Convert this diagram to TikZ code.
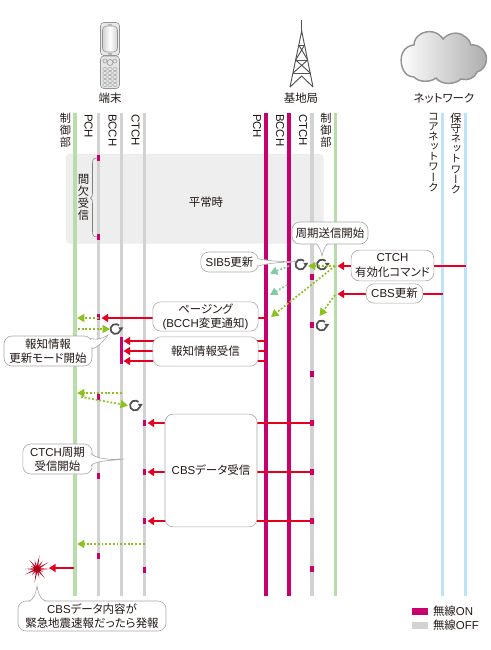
\documentclass[tikz,border=0pt]{standalone}
\usepackage{fontspec}
\setmainfont[RawFeature=+palt]{Noto Sans CJK JP}
\newfontfamily\lat{Liberation Sans}
\newfontfamily\jpv[RawFeature=+vert]{Noto Sans CJK JP}
\usetikzlibrary{arrows.meta,calc}
\definecolor{pinkon}{HTML}{C8006E}
\definecolor{offgray}{HTML}{D2D2D2}
\definecolor{ctlgreen}{HTML}{B7DDA8}
\definecolor{netblue}{HTML}{BDE3FA}
\definecolor{sigred}{HTML}{E60020}
\definecolor{dotgreen}{HTML}{8CC220}
\definecolor{dotteal}{HTML}{80CAA4}
\definecolor{bandgray}{HTML}{EEEEEE}
\definecolor{boxline}{HTML}{A8A8A8}
\definecolor{txt}{HTML}{231815}
\definecolor{cyc}{HTML}{505050}
\tikzset{
  x=0.75pt,y=-0.75pt,
  every node/.style={text=txt,inner sep=0pt,outer sep=0pt},
  jptext/.style={font=\fontsize{8.6}{10.6}\selectfont,align=center},
  latv/.style={rotate=-90,anchor=west,font=\lat\fontsize{8.6}{10}\selectfont},
  vstack/.style={anchor=north,align=center,font=\jpv\fontsize{8.4}{9}\selectfont},
  kstack/.style={anchor=north,align=center,font=\jpv\fontsize{8}{7.6}\selectfont},
  life/.style={line width=2.5pt},
  tick/.style={fill=pinkon,draw=none,minimum width=2.9pt,minimum height=3.8pt},
  redarrow/.style={draw=sigred,line width=1.45pt,-{Triangle[length=5pt,width=6pt]}},
  gdot/.style={draw=dotgreen,line width=1.3pt,dash pattern=on 1.4pt off 1.4pt,-{Triangle[length=5.6pt,width=6pt,fill=dotgreen]}},
  tdot/.style={draw=dotteal,line width=1.3pt,dash pattern=on 1.4pt off 1.4pt,-{Triangle[length=5.6pt,width=6pt,fill=dotteal]}},
  callout/.style={draw=boxline,line width=0.45pt,fill=white,rounded corners=6pt,jptext,anchor=center},
  tailfill/.style={fill=white,draw=none},
  tailline/.style={draw=boxline,line width=0.45pt},
  cycle arrow/.pic={
    \draw[cyc,line width=1.3pt] (15:5) arc (15:315:5);
    \fill[cyc] (2.8,-1.6) -- (7.8,-1.6) -- (5.3,2.2) -- cycle;
  }
}
\begin{document}
\begin{tikzpicture}
\useasboundingbox (0,0) rectangle (490,650);
% lifeline tops
\coordinate (uC) at (75,113);   \coordinate (uP) at (98.5,113);
\coordinate (uB) at (121.5,113);\coordinate (uT) at (144.5,113);
\coordinate (bP) at (266,113);  \coordinate (bB) at (289,113);
\coordinate (bT) at (312,113);  \coordinate (bC) at (335.5,113);
\coordinate (nC) at (442.5,113);\coordinate (nM) at (465.5,113);
\coordinate (bot) at (0,596);
% band
\node[fill=bandgray,draw=bandgray!90!black,line width=0.2pt,dash pattern=on 1pt off 1pt,rounded corners=3pt,
  minimum width=193pt,minimum height=67pt,anchor=north west] (band) at (66,154) {};
\node[jptext] (normal) at (206,202) {平常時};
% lifelines
\foreach \n/\c in {uC/ctlgreen,uP/offgray,uB/offgray,uT/offgray,bP/pinkon,bB/pinkon,bT/offgray,bC/ctlgreen,nC/netblue,nM/netblue}
  \draw[life,\c] (\n) -- (\n |- bot);
% icons: phone
\begin{scope}
\draw[draw=black!42,line width=0.45pt,fill=black!9,rounded corners=2.5pt] (100.5,22.5) rectangle (119.5,55.5);
\draw[draw=black!42,line width=0.4pt,left color=black!18,right color=black!18,middle color=white,rounded corners=3pt] (102.5,26) rectangle (117.5,52);
\fill[black!28] (108,23.5) rectangle (112,25.5);\fill[black!28] (108,52.5) rectangle (112,54.5);
\draw[draw=black!42,line width=0.45pt,fill=black!10,rounded corners=2.5pt] (100.5,56) rectangle (119.5,88.5);
\foreach \px in {105,115} \draw[black!45,line width=0.35pt] (\px,61) circle (2);
\draw[black!45,line width=0.4pt] (110,62.5) circle (3);
\foreach \py in {69,73,77,81,85} \foreach \px in {105,110,115}
  \draw[black!38,line width=0.3pt] (\px,\py) ellipse (2.2 and 1.6);
\end{scope}
% tower
\begin{scope}[draw=black!68,line width=0.7pt]
\draw (301.7,20) -- (301.7,31);
\draw (301.7,31) -- (290,87) (301.7,31) -- (313,87);
\draw (298.8,45) -- (304.6,45) (295.7,60) -- (307.7,60) (293.1,73) -- (310.3,73);
\draw (298.8,45) -- (307.7,60) (304.6,45) -- (295.7,60);
\draw (295.7,60) -- (310.3,73) (307.7,60) -- (293.1,73);
\draw (290,87) -- (301.7,76) -- (313,87);
\end{scope}
% cloud
\draw[draw=black!42,line width=1.1pt,left color=white,right color=black!32]
 (414,77) .. controls (402,77) and (399,61) .. (402.5,53)
 .. controls (405,47) and (411,45) .. (414,45)
 .. controls (414,36) and (424,30) .. (433,32)
 .. controls (438,33) and (441,36) .. (443,39)
 .. controls (448,33) and (458,31) .. (464,36)
 .. controls (468,38) and (470,42) .. (471,45)
 .. controls (478,44) and (486,50) .. (486.5,58)
 .. controls (487,65) and (482,71) .. (477,72)
 .. controls (475,78) and (468,81) .. (461,79)
 .. controls (455,85) and (441,85) .. (436,78)
 .. controls (430,83) and (418,82) .. (414,77) -- cycle;
% titles
\node[jptext] (tUE) at (110,98) {端末};
\node[jptext] (tBS) at (301,98) {基地局};
\node[jptext] (tNW) at (444,98) {ネットワーク};
% lifeline labels
\node[vstack] (l1) at (65.5,113.5) {制\\御\\部};
\node[latv] (l2) at (88.5,114) {PCH};
\node[latv] (l3) at (112.5,114) {BCCH};
\node[latv] (l4) at (135.5,114) {CTCH};
\node[latv] (l5) at (257,114) {PCH};
\node[latv] (l6) at (280,114) {BCCH};
\node[latv] (l7) at (303,114) {CTCH};
\node[vstack] (l8) at (326,113.5) {制\\御\\部};
\node[kstack] (l9) at (433.5,113) {コ\\ア\\ネ\\ッ\\ト\\ワ\\ー\\ク};
\node[kstack] (l10) at (456,113) {\fontsize{8.4}{9.6}\selectfont 保\\守\\\fontsize{8}{8.1}\selectfont ネ\\ッ\\ト\\ワ\\ー\\ク};
% ticks
\foreach \y in {158,237,317,397,476,556} \node[tick] (pt\y) at (uP |- 0,\y) {};
\foreach \y in {423,472,521,570} \node[tick] (ct\y) at (uT |- 0,\y) {};
\foreach \y in {277,325,374,423,472,521,569} \node[tick] (bt\y) at (bT |- 0,\y) {};
\coordinate (sA) at (121.5,337); \coordinate (sB) at (121.5,364);
\draw[pinkon,line width=2.5pt] (sA) -- (sB);
% brace
\draw[draw=black!50,line width=0.45pt] (97,158) .. controls (93,158) and (92.5,160) .. (92.5,164) -- (92.5,192)
  .. controls (92.5,196) and (92,197) .. (90.5,198) .. controls (92,199) and (92.5,200) .. (92.5,204) -- (92.5,231)
  .. controls (92.5,235) and (93,237) .. (97,237);
\node[vstack] (kan) at (83.5,174.5) {\fontsize{8.6}{9}\selectfont 間\\欠\\受\\信};
% y levels
\coordinate (y1) at (0,266); \coordinate (y2) at (0,294); \coordinate (y3) at (0,318);
\coordinate (y4) at (0,341); \coordinate (y5) at (0,351); \coordinate (y6) at (0,361);
\coordinate (y7) at (0,423); \coordinate (y8) at (0,472); \coordinate (y9) at (0,521);
% red arrows
\draw[redarrow] (nM |- y1) -- ($(bC |- y1)+(2,0)$);
\draw[redarrow] (nC |- y2) -- ($(bC |- y2)+(2,0)$);
\draw[redarrow] (bP |- y3) -- ($(uP |- y3)+(3,0)$);
\foreach \yy in {y4,y5,y6} \draw[redarrow] (bP |- \yy) -- ($(uB |- \yy)+(2,0)$);
\foreach \yy in {y7,y8,y9} \draw[redarrow] (bT |- \yy) -- ($(uT |- \yy)+(3,0)$);
\coordinate (alarm) at (37,569);
\coordinate (alS) at (73.5,568); \coordinate (alE) at (49,568);
\draw[redarrow] (alS) -- (alE);
% cycle marks
\pic (c1) at (322,264.5) {cycle arrow};
\pic (c2) at (300.5,264.5) {cycle arrow};
\pic (c3) at (321.5,325.5) {cycle arrow};
\pic (c4) at (115.5,329) {cycle arrow};
\pic (c5) at (135,405.5) {cycle arrow};
% green dotted
\coordinate (gA) at (335,266); \coordinate (gB) at (335,295);
\coordinate (gA1) at (308,266); \coordinate (gA2) at (271,317); \coordinate (gB1) at (319.5,316);
\draw[gdot] (gA) -- (gA1);
\draw[gdot] (gA) -- (gA2);
\draw[gdot] (gB) -- (gB1);
\coordinate (tA) at (289,266); \coordinate (tA1) at (270,273.5);
\coordinate (tB) at (287,285); \coordinate (tB1) at (270,295);
\draw[tdot] (tA) -- (tA1);
\draw[tdot] (tB) -- (tB1);
\coordinate (g1) at (77,318); \coordinate (g2) at (78,329); \coordinate (g3) at (110,329);
\coordinate (g4) at (77,393); \coordinate (g5) at (81,397); \coordinate (g6) at (128,405.5); \coordinate (g7) at (77,544);
\draw[gdot] (uP |- y3) -- (g1);
\draw[gdot] (g2) -- (g3);
\draw[gdot] (uB |- g4) -- (g4);
\draw[gdot] (g5) -- (g6);
\draw[gdot] (uT |- g7) -- (g7);
% boxes
\node[callout,minimum width=57pt,minimum height=16.5pt] (bxStart) at (330,233) {周期送信開始};
\fill[tailfill] (317,243) .. controls (319,246) and (321,251) .. (322,256) .. controls (323,251) and (325,246) .. (327,243) -- cycle;
\draw[tailline] (316.5,244) .. controls (319,246) and (321,251) .. (322,256) .. controls (323,251) and (325,246) .. (327.5,244);
\node[callout,minimum width=43pt,minimum height=15pt] (bxSib) at (229.5,262) {{\lat SIB5}更新};
\fill[tailfill] (257,259) -- (296,262) -- (257,265) -- cycle;
\draw[tailline] (258,258.5) .. controls (265,261) and (285,262) .. (296,261.5) .. controls (285,262) and (268,263) .. (258,266);
\node[callout,minimum width=62pt,minimum height=23pt] (bxCmd) at (392.5,265.5) {{\lat CTCH}\\有効化コマンド};
\node[callout,minimum width=42.5pt,minimum height=14.5pt] (bxCbs) at (394.5,293.5) {{\lat CBS}更新};
\node[callout,minimum width=79pt,minimum height=22pt] (bxPage) at (205.5,316.5) {ページング\\{\lat (BCCH}変更通知{\lat )}};
\node[callout,minimum width=79pt,minimum height=22pt] (bxRecv) at (205.5,351.5) {報知情報受信};
\node[callout,minimum width=66pt,minimum height=22.5pt] (bxMode) at (48,351) {報知情報\\更新モード開始};
\fill[tailfill] (90,340) .. controls (96,341) and (102,339) .. (108,335) .. controls (103,342) and (98,347) .. (91,347) -- cycle;
\draw[tailline] (90,338.5) .. controls (96,340) and (102,339) .. (108,335) .. controls (103,342) and (98,347) .. (92,349);
\node[callout,minimum width=69pt,minimum height=84.5pt] (bxData) at (211,470.5) {{\lat CBS}データ受信};
\node[callout,minimum width=52pt,minimum height=22.5pt] (bxCt) at (57.5,459) {{\lat CTCH}周期\\受信開始};
\fill[tailfill] (91,455) .. controls (100,460) and (110,460) .. (124,459) .. controls (110,461) and (100,460) .. (91,464) -- cycle;
\draw[tailline] (91,453) .. controls (95,459) and (110,460) .. (124,459) .. controls (110,461) and (96,460) .. (91,466);
\node[callout,minimum width=111pt,minimum height=22.5pt] (bxAlert) at (92,616) {{\lat CBS}データ内容が\\緊急地震速報だったら発報};
\fill[tailfill] (30,602) .. controls (34,600) and (36,592) .. (37,586) .. controls (38,592) and (40,600) .. (45,602) -- cycle;
\draw[tailline] (29,601) .. controls (34,600) and (36,592) .. (37,586) .. controls (38,592) and (40,600) .. (46,601);
% explosion
\foreach \a/\r in {0/13,25/7,50/12,75/9,100/14,130/8,155/13,180/12,205/7,230/12,255/9,280/14,305/10,330/13}
  \fill[sigred!85!black] ($(alarm)+(\a:\r)$) -- ($(alarm)+(\a+35:1.6)$) -- ($(alarm)+(\a-35:1.6)$) -- cycle;
\fill[sigred!75!black] (alarm) circle (3.2);
% legend
\node[fill=pinkon,minimum width=12pt,minimum height=4.8pt,anchor=west] (legOn) at (412,611.5) {};
\node[fill=offgray,minimum width=12pt,minimum height=4.8pt,anchor=west] (legOff) at (412,625.5) {};
\node[jptext,anchor=west] (legOnT) at (433,611) {無線{\lat ON}};
\node[jptext,anchor=west] (legOffT) at (433,625) {無線{\lat OFF}};
\end{tikzpicture}
\end{document}
